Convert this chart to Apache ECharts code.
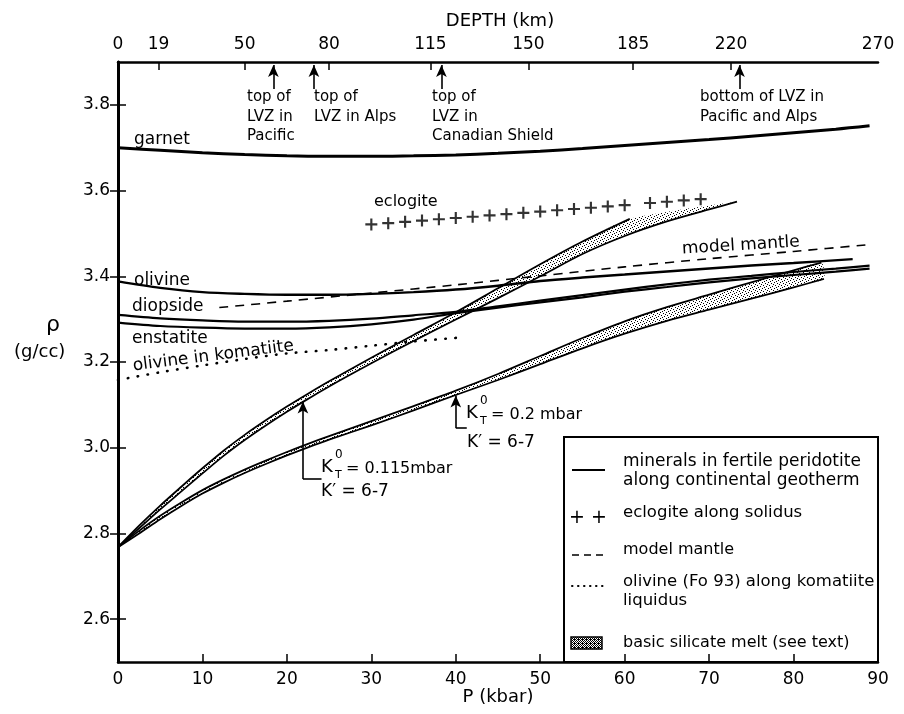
<!DOCTYPE html>
<html>
<head>
<meta charset="utf-8">
<title>Density vs pressure</title>
<script src="https://cdn.jsdelivr.net/npm/echarts@6/dist/echarts.min.js"></script>
<style>
html,body{margin:0;padding:0;background:#fff;}
#chart{width:904px;height:714px;}
</style>
</head>
<body>
<div id="chart"></div>
<script>
// P (kbar) on x, density rho (g/cc) on y
const rhoTicks = [2.6, 2.8, 3.0, 3.2, 3.4, 3.6, 3.8];
const pTicks = [10, 20, 30, 40, 50, 60, 70, 80];
// depth scale on top, placed at the pressure it corresponds to
const depthPos = [0, 4.8, 15, 25, 37, 48.6, 61, 72.6, 90];
const depthLabels = ['0', '19', '50', '80', '115', '150', '185', '220', '270'];
const lvzP = [18.4, 23.2, 38.3, 73.6];

const garnetP = [0, 5, 10, 15, 20, 25, 30, 35, 40, 45, 50, 55, 60, 65, 70, 75, 80, 85, 89];
const garnetRho = [3.700, 3.694, 3.688, 3.684, 3.681, 3.680, 3.680, 3.681, 3.683, 3.687, 3.692, 3.698, 3.705, 3.712, 3.719, 3.727, 3.735, 3.743, 3.751];

const olivineP = [0, 5, 10, 15, 20, 25, 30, 35, 40, 45, 50, 55, 60, 65, 70, 75, 80, 87];
const olivineRho = [3.388, 3.373, 3.363, 3.359, 3.357, 3.357, 3.359, 3.363, 3.369, 3.378, 3.389, 3.397, 3.404, 3.411, 3.418, 3.425, 3.431, 3.440];

const diopsideP = [0, 5, 10, 15, 20, 25, 30, 35, 40, 45, 50, 55, 60, 65, 70, 75, 80, 85, 89];
const diopsideRho = [3.310, 3.302, 3.297, 3.294, 3.294, 3.296, 3.301, 3.309, 3.317, 3.330, 3.343, 3.356, 3.369, 3.381, 3.392, 3.401, 3.410, 3.418, 3.425];
const enstatiteRho = [3.292, 3.284, 3.280, 3.278, 3.278, 3.281, 3.288, 3.299, 3.314, 3.327, 3.339, 3.351, 3.364, 3.375, 3.386, 3.395, 3.403, 3.411, 3.418];

const mantleP = [12, 20, 30, 40, 50, 60, 70, 80, 89];
const mantleRho = [3.327, 3.342, 3.361, 3.380, 3.401, 3.422, 3.441, 3.458, 3.474];

const komatiiteP = [0, 5, 10, 15, 20, 25, 30, 35, 40.5];
const komatiiteRho = [3.158, 3.176, 3.192, 3.207, 3.220, 3.228, 3.238, 3.248, 3.257];

const eclogiteP = [30, 32, 34, 36, 38, 40, 42, 44, 46, 48, 50, 52, 54, 56, 58, 60, 63, 65, 67, 69];
const eclogiteRho = [3.521, 3.524, 3.527, 3.530, 3.533, 3.536, 3.539, 3.542, 3.545, 3.548, 3.551, 3.554, 3.557, 3.560, 3.563, 3.566, 3.571, 3.574, 3.577, 3.580];

// melt, K0 = 0.115 mbar (two edges, K' = 6 and 7)
const meltAP = [0, 2.5, 5, 7.5, 10, 12.5, 15, 17.5, 20, 22.5, 25, 30, 35, 40, 45, 50, 55, 60.6];
const meltARho = [2.768, 2.818, 2.865, 2.909, 2.952, 2.993, 3.030, 3.064, 3.096, 3.126, 3.155, 3.210, 3.263, 3.316, 3.372, 3.428, 3.481, 3.534];
const meltBP = [0, 2.5, 5, 7.5, 10, 12.5, 15, 17.5, 20, 22.5, 25, 30, 35, 40, 45, 50, 55, 60, 65, 70, 73.3];
const meltBRho = [2.768, 2.812, 2.856, 2.898, 2.940, 2.981, 3.018, 3.052, 3.084, 3.114, 3.143, 3.197, 3.249, 3.299, 3.349, 3.400, 3.452, 3.494, 3.528, 3.556, 3.574];

// melt, K0 = 0.2 mbar
const meltCP = [0, 2.5, 5, 7.5, 10, 12.5, 15, 17.5, 20, 22.5, 25, 30, 35, 40, 45, 50, 55, 60, 65, 70, 75, 80, 83.3];
const meltCRho = [2.768, 2.806, 2.841, 2.872, 2.901, 2.926, 2.949, 2.970, 2.990, 3.009, 3.027, 3.062, 3.097, 3.133, 3.172, 3.214, 3.256, 3.295, 3.328, 3.357, 3.386, 3.414, 3.432];
const meltDP = [0, 2.5, 5, 7.5, 10, 12.5, 15, 17.5, 20, 22.5, 25, 30, 35, 40, 45, 50, 55, 60, 65, 70, 75, 80, 83.6];
const meltDRho = [2.768, 2.800, 2.833, 2.864, 2.893, 2.918, 2.941, 2.962, 2.982, 3.001, 3.019, 3.052, 3.087, 3.123, 3.158, 3.195, 3.232, 3.266, 3.296, 3.322, 3.348, 3.374, 3.394];

const FONT = 'DejaVu Sans';
const zip = (xs, ys) => xs.map((x, i) => [x, ys[i]]);

function stipple(size, dots) {
  const c = document.createElement('canvas');
  c.width = size; c.height = size;
  const g = c.getContext('2d');
  g.fillStyle = '#fff'; g.fillRect(0, 0, size, size);
  g.fillStyle = '#000';
  dots.forEach(d => g.fillRect(d[0], d[1], 1, 1));
  return c;
}
const meltFill = {image: stipple(6, [[0,0],[3,1],[1,3],[4,4],[2,5],[5,2]]), repeat: 'repeat'};
const swatchFill = {image: stipple(4, [[0,0],[2,0],[1,1],[3,1],[0,2],[2,2],[3,3],[1,3],[2,3]]), repeat: 'repeat'};

function solid(name, xs, ys, w) {
  return {
    name: name, type: 'line', data: zip(xs, ys), showSymbol: false, smooth: 0.3,
    silent: true, lineStyle: {color: '#000', width: w}, z: 3
  };
}

function band(xs1, ys1, xs2, ys2) {
  const top = zip(xs1, ys1), bot = zip(xs2, ys2).reverse();
  return {
    type: 'custom', data: [[0, 3]], silent: true, z: 1,
    renderItem: function (params, api) {
      const pts = top.concat(bot).map(p => api.coord(p));
      return {type: 'polygon', shape: {points: pts, smooth: 0.2}, style: {fill: meltFill, stroke: null}};
    }
  };
}

function arrow(x1, y1, x2, y2) {
  return [{coord: [x1, y1], symbol: 'none'}, {coord: [x2, y2], symbol: 'arrow'}];
}
function seg(x1, y1, x2, y2) {
  return [{coord: [x1, y1], symbol: 'none'}, {coord: [x2, y2], symbol: 'none'}];
}

function txt(s, x, y, size, extra) {
  const el = {
    type: 'text', x: x, y: y, silent: true,
    style: {text: s, fontSize: size || 16, fontFamily: FONT, fill: '#000', align: 'left', verticalAlign: 'middle', lineHeight: 19.5}
  };
  if (extra) {
    if (extra.style) Object.assign(el.style, extra.style);
    if (extra.rotation) el.rotation = extra.rotation;
  }
  return el;
}

const chart = echarts.init(document.getElementById('chart'));

const annot = [
  txt('DEPTH (km)', 500, 21, 18, {style: {align: 'center'}}),
  txt('P (kbar)', 498, 697, 18, {style: {align: 'center'}}),
  txt('ρ', 46, 325, 22),
  txt('(g/cc)', 14, 352, 18),
  txt('top of\nLVZ in\nPacific', 247, 117, 15),
  txt('top of\nLVZ in Alps', 314, 107, 15),
  txt('top of\nLVZ in\nCanadian Shield', 432, 117, 15),
  txt('bottom of LVZ in\nPacific and Alps', 700, 107, 15),
  txt('garnet', 134, 140, 17),
  txt('olivine', 134, 281, 17),
  txt('diopside', 132, 307, 17),
  txt('enstatite', 132, 339, 17),
  txt('olivine in komatiite', 133, 366, 17, {rotation: 0.125}),
  txt('eclogite', 374, 202, 16),
  txt('model mantle', 682, 249, 17, {rotation: 0.06}),
  // K labels
  txt('K', 321, 467, 18), txt('0', 335, 455, 12), txt('T', 335, 475, 11),
  txt('= 0.115mbar', 346, 469, 16),
  txt('K\u2032 = 6-7', 321, 492, 17),
  txt('K', 466, 413, 18), txt('0', 480, 401, 12), txt('T', 480, 421, 11),
  txt('= 0.2 mbar', 491, 415, 16),
  txt('K\u2032 = 6-7', 467, 443, 17),
  // legend
  {type: 'rect', silent: true, shape: {x: 564, y: 437, width: 314, height: 225}, style: {fill: 'none', stroke: '#000', lineWidth: 2}},
  {type: 'line', silent: true, shape: {x1: 572, y1: 470, x2: 605, y2: 470}, style: {stroke: '#000', lineWidth: 2.2}},
  txt('minerals in fertile peridotite\nalong continental geotherm', 623, 471, 17),
  txt('+ +', 569, 518, 19),
  txt('eclogite along solidus', 623, 513, 16.5),
  {type: 'line', silent: true, shape: {x1: 572, y1: 555, x2: 605, y2: 555}, style: {stroke: '#000', lineWidth: 1.5, lineDash: [7, 5]}},
  txt('model mantle', 623, 550, 16),
  {type: 'line', silent: true, shape: {x1: 572, y1: 586, x2: 604, y2: 586}, style: {stroke: '#000', lineWidth: 2, lineDash: [0.5, 5.5], lineCap: 'round'}},
  txt('olivine (Fo 93) along komatiite\nliquidus', 623, 591, 16.5),
  {type: 'rect', silent: true, shape: {x: 571, y: 637, width: 31, height: 12}, style: {fill: swatchFill, stroke: '#000', lineWidth: 1.5}},
  txt('basic silicate melt (see text)', 623, 643, 16)
];

const option = {
  backgroundColor: '#fff',
  animation: false,
  grid: {left: 118, right: 26, top: 62, bottom: 52},
  xAxis: [
    {
      type: 'value', min: 0, max: 90, interval: 10, position: 'bottom',
      axisLine: {lineStyle: {color: '#000', width: 2.5}},
      axisTick: {inside: true, length: 8, lineStyle: {color: '#000', width: 1.5}, customValues: pTicks},
      axisLabel: {color: '#000', fontSize: 17, fontFamily: FONT, margin: 9},
      splitLine: {show: false}
    },
    {
      type: 'value', min: 0, max: 90, position: 'top',
      axisLine: {lineStyle: {color: '#000', width: 2.5}},
      axisTick: {inside: true, length: 8, lineStyle: {color: '#000', width: 1.5}, customValues: depthPos.slice(1, -1)},
      axisLabel: {
        color: '#000', fontSize: 17, fontFamily: FONT, margin: 9, customValues: depthPos,
        formatter: function (v) {
          const i = depthPos.findIndex(p => Math.abs(p - v) < 1e-6);
          return i >= 0 ? depthLabels[i] : '';
        }
      },
      splitLine: {show: false}
    }
  ],
  yAxis: [
    {
      type: 'value', min: 2.5, max: 3.9, position: 'left',
      axisLine: {show: true, lineStyle: {color: '#000', width: 3}},
      axisTick: {show: true, inside: true, length: 8, lineStyle: {color: '#000', width: 1.5}, customValues: rhoTicks},
      axisLabel: {color: '#000', fontSize: 17, fontFamily: FONT, margin: 8, customValues: rhoTicks, formatter: v => v.toFixed(1)},
      splitLine: {show: false}
    },
    {
      type: 'value', min: 2.5, max: 3.9, position: 'right',
      axisLine: {show: true, lineStyle: {color: '#000', width: 2.5}},
      axisTick: {show: true, inside: true, length: 8, lineStyle: {color: '#000', width: 1.5}, customValues: rhoTicks},
      axisLabel: {show: false},
      splitLine: {show: false}
    }
  ],
  series: [
    band(meltAP, meltARho, meltBP, meltBRho),
    band(meltCP, meltCRho, meltDP, meltDRho),
    Object.assign(solid('garnet', garnetP, garnetRho, 3), {
      markLine: {
        silent: true, symbolSize: [8, 12], label: {show: false},
        lineStyle: {color: '#000', width: 1.6, type: 'solid'},
        data: lvzP.map(p => arrow(p, 3.837, p, 3.893)).concat([
          arrow(21.9, 2.927, 21.9, 3.108), seg(21.9, 2.927, 24.1, 2.927),
          arrow(40, 3.046, 40, 3.122), seg(40, 3.046, 41.3, 3.046)
        ])
      }
    }),
    solid('olivine', olivineP, olivineRho, 2.4),
    solid('diopside', diopsideP, diopsideRho, 2.2),
    solid('enstatite', diopsideP, enstatiteRho, 2.2),
    solid('meltA', meltAP, meltARho, 1.8),
    solid('meltB', meltBP, meltBRho, 1.8),
    solid('meltC', meltCP, meltCRho, 1.8),
    solid('meltD', meltDP, meltDRho, 1.8),
    {
      name: 'model mantle', type: 'line', data: zip(mantleP, mantleRho), showSymbol: false, smooth: 0.3, silent: true,
      lineStyle: {color: '#000', width: 1.6, type: [9, 7]}
    },
    {
      name: 'olivine in komatiite', type: 'line', data: zip(komatiiteP, komatiiteRho), showSymbol: false, smooth: 0.3, silent: true,
      lineStyle: {color: '#000', width: 2.6, type: [0.5, 9.5], cap: 'round'}
    },
    {
      name: 'eclogite', type: 'scatter', data: zip(eclogiteP, eclogiteRho), silent: true,
      symbol: 'path://M4.1,0H5.9V4.1H10V5.9H5.9V10H4.1V5.9H0V4.1H4.1Z', symbolSize: 12,
      itemStyle: {color: '#000'}
    }
  ],
  graphic: annot
};

chart.setOption(option);
window.addEventListener('resize', function () { chart.resize(); });
</script>
</body>
</html>
